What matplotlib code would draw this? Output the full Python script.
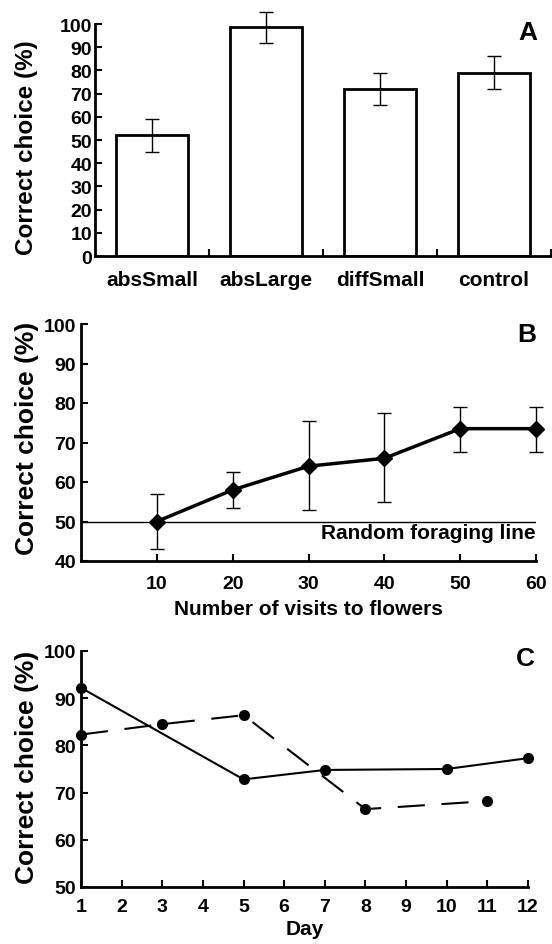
import matplotlib
matplotlib.use("Agg")
import matplotlib.pyplot as plt
import numpy as np

plt.rcParams.update(
    {
        "font.family": ["Liberation Sans", "DejaVu Sans"],
        "font.weight": "bold",
        "axes.linewidth": 2,
        "xtick.direction": "in",
        "ytick.direction": "in",
        "xtick.major.width": 1.5,
        "ytick.major.width": 1.5,
        "xtick.major.size": 5,
        "ytick.major.size": 5,
    }
)

# Panel A data
groups = ["absSmall", "absLarge", "diffSmall", "control"]
group_mean = [52, 98.5, 72, 79]
group_err = [7, 6.5, 7, 7]

# Panel B data
visits = [10, 20, 30, 40, 50, 60]
visit_mean = [50, 58, 64, 66, 73.5, 73.5]
visit_lo = [43, 53.5, 53, 55, 67.5, 67.5]
visit_hi = [57, 62.5, 75.5, 77.5, 79, 79]

# Panel C data
days_solid = [1, 5, 7, 10, 12]
solid_vals = [92.2, 72.8, 74.8, 75.0, 77.3]
days_dash = [1, 3, 5, 8, 11]
dash_vals = [82.3, 84.5, 86.4, 66.5, 68.2]

W, H = 552, 945
fig = plt.figure(figsize=(W / 100, H / 100), dpi=100)


def frac(left, top, right, bottom):
    return [left / W, 1 - bottom / H, (right - left) / W, (bottom - top) / H]


def style(ax):
    for s in ["top", "right"]:
        ax.spines[s].set_visible(False)
    for lab in ax.get_xticklabels() + ax.get_yticklabels():
        lab.set_fontweight("bold")


def letter(s, px, py):
    fig.text(px / W, 1 - py / H, s, fontsize=19, fontweight="bold",
             ha="center", va="center")


# ---- A ----
axA = fig.add_axes(frac(95, 25, 551, 257))
x = np.arange(len(groups))
axA.bar(x, group_mean, width=0.64, color="white", edgecolor="black", linewidth=2)
axA.errorbar(x, group_mean, yerr=group_err, fmt="none", ecolor="black",
             elinewidth=1, capsize=5, capthick=1, clip_on=False)
axA.set_xlim(-0.5, 3.5)
axA.set_ylim(0, 100)
axA.set_yticks(range(0, 101, 10))
axA.tick_params(axis="y", labelsize=14, pad=2)
axA.set_xticks(x + 0.5)
axA.set_xticklabels([])
axA.set_xticks(x, minor=True)
axA.set_xticklabels(groups, minor=True, fontsize=15, fontweight="bold")
axA.tick_params(axis="x", which="minor", length=0, pad=10)
axA.tick_params(axis="x", which="major", length=5)
style(axA)
letter("A", 528, 33)

# ---- B ----
axB = fig.add_axes(frac(81, 325, 536, 562))
axB.axhline(50, color="black", linewidth=1)
yerr = [np.array(visit_mean) - np.array(visit_lo), np.array(visit_hi) - np.array(visit_mean)]
axB.errorbar(visits, visit_mean, yerr=yerr, fmt="D-", color="black",
             linewidth=2.5, markersize=8, ecolor="black", elinewidth=1,
             capsize=5, capthick=1, clip_on=False, zorder=3)
axB.set_xlim(0, 60)
axB.set_ylim(40, 100)
axB.set_xticks(visits)
axB.set_yticks(range(40, 101, 10))
axB.tick_params(labelsize=14)
axB.tick_params(axis="x", pad=10)
axB.text(60, 49.6, "Random foraging line", ha="right", va="top",
         fontsize=15, fontweight="bold")
axB.set_xlabel("Number of visits to flowers", fontsize=15, fontweight="bold", labelpad=5)
style(axB)
letter("B", 527, 335)

# ---- C ----
axC = fig.add_axes(frac(81, 652, 528, 888))
axC.plot(days_solid, solid_vals, "o-", color="black", linewidth=1.5,
         markersize=7, clip_on=False, zorder=3)
axC.plot(days_dash, dash_vals, "o", color="black", linewidth=1.5,
         markersize=7, clip_on=False, zorder=3, linestyle=(0, (13, 8)))
axC.set_xlim(1, 12)
axC.set_ylim(50, 100)
axC.set_xticks(range(1, 13))
axC.set_yticks(range(50, 101, 10))
axC.tick_params(labelsize=14)
axC.tick_params(axis="x", pad=8)
axC.set_xlabel("Day", fontsize=15, fontweight="bold", labelpad=3)
style(axC)
letter("C", 525, 659)

# y labels
for yc, fs in [(148, 17.5), (438, 19), (767, 19)]:
    fig.text(27 / W, 1 - yc / H, "Correct choice (%)", rotation=90,
             ha="center", va="center", fontsize=fs, fontweight="bold")

fig.savefig("out.png", dpi=100, facecolor="white")
